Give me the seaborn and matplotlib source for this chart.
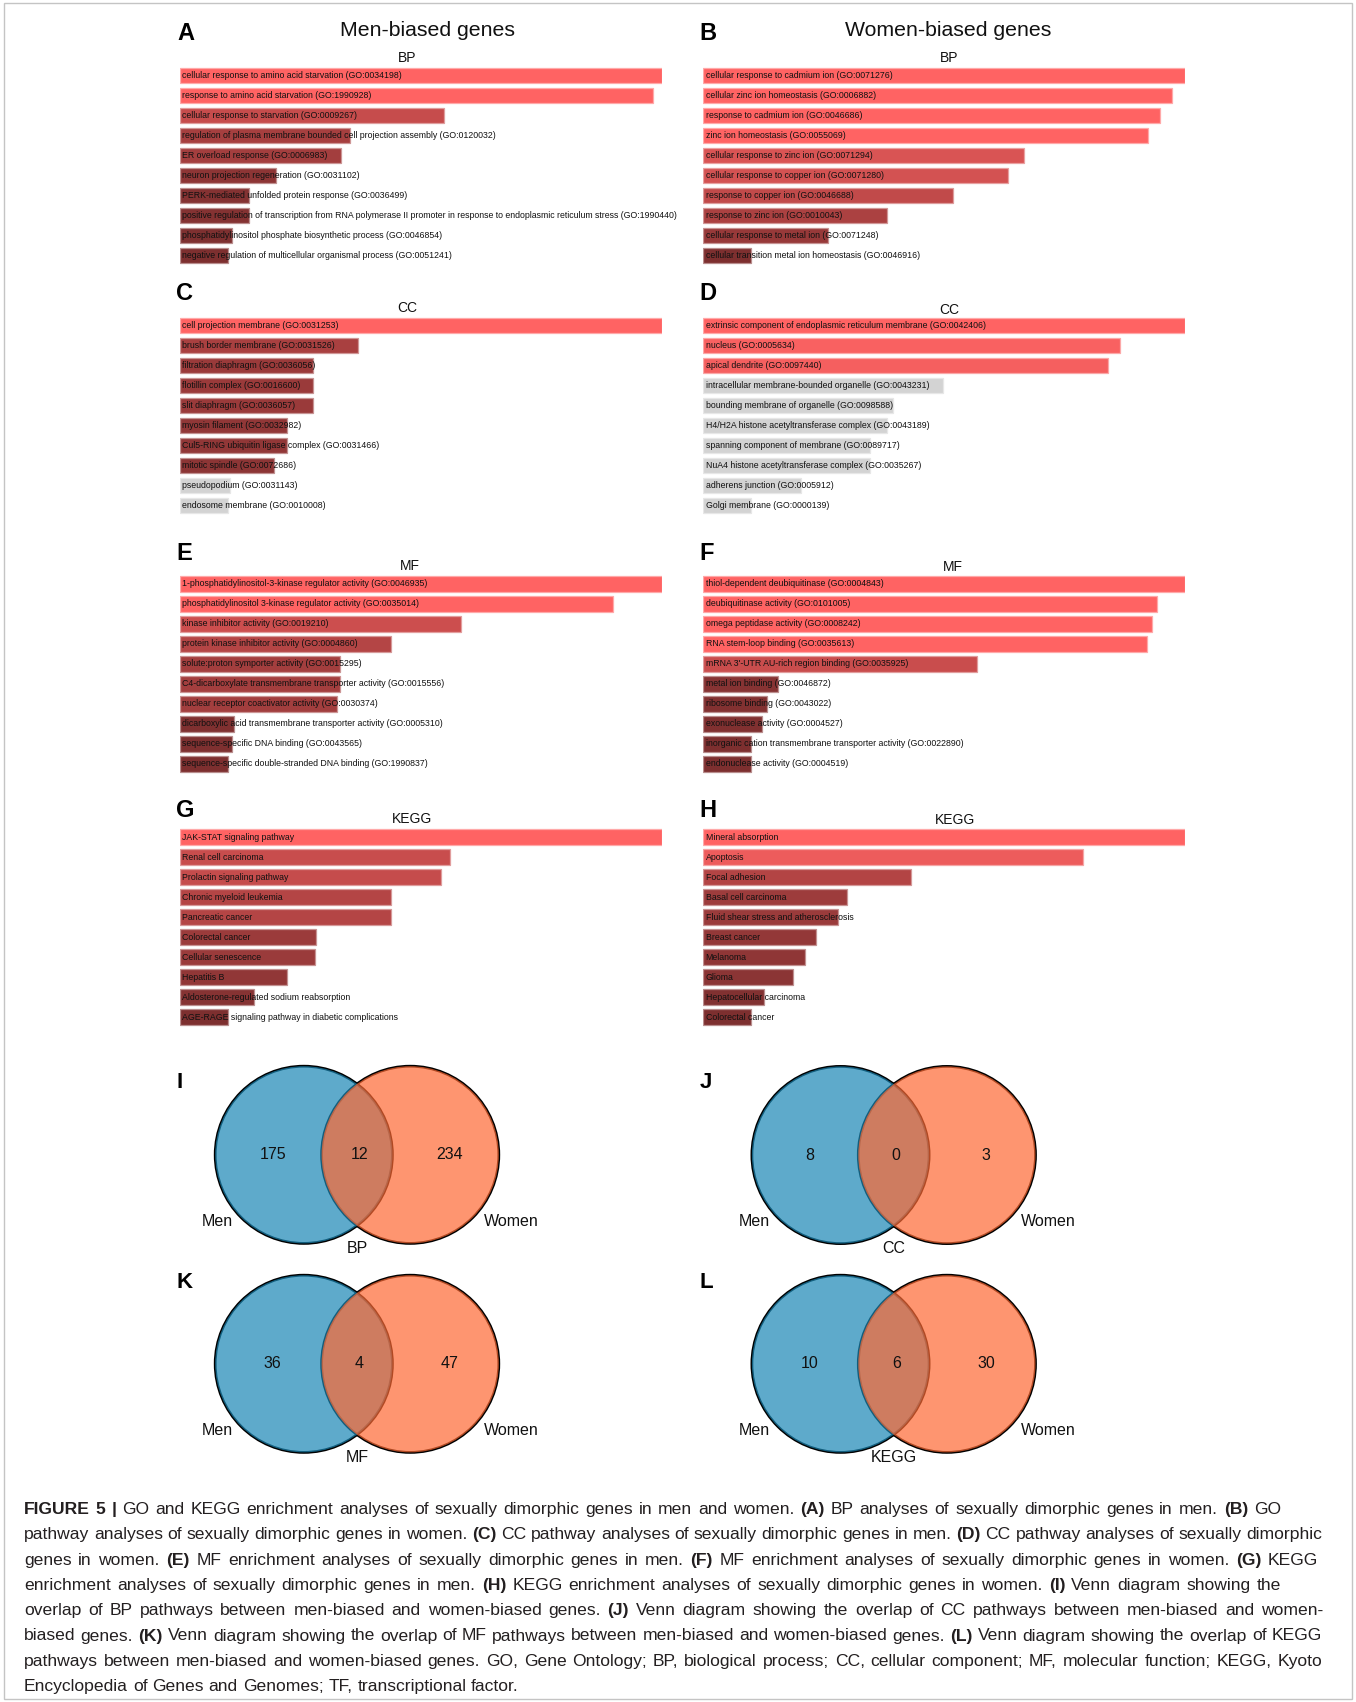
import numpy as np
import pandas as pd
import matplotlib
matplotlib.use("Agg")
import matplotlib.pyplot as plt
from matplotlib.patches import Ellipse, Rectangle
import seaborn as sns

sns.set_theme(style="white")
plt.rcParams["font.family"] = ["Liberation Sans", "DejaVu Sans"]

# ------------------------------------------------------------------
# Enrichment results (relative enrichment score, significance flag)
# ------------------------------------------------------------------
bp_men_terms = [
    "cellular response to amino acid starvation (GO:0034198)",
    "response to amino acid starvation (GO:1990928)",
    "cellular response to starvation (GO:0009267)",
    "regulation of plasma membrane bounded cell projection assembly (GO:0120032)",
    "ER overload response (GO:0006983)",
    "neuron projection regeneration (GO:0031102)",
    "PERK-mediated unfolded protein response (GO:0036499)",
    "positive regulation of transcription from RNA polymerase II promoter in response to endoplasmic reticulum stress (GO:1990440)",
    "phosphatidylinositol phosphate biosynthetic process (GO:0046854)",
    "negative regulation of multicellular organismal process (GO:0051241)",
]
bp_men_score = [1.0, 0.981, 0.547, 0.352, 0.334, 0.199, 0.143, 0.143, 0.108, 0.099]
bp_men_sig = [True] * 10

bp_women_terms = [
    "cellular response to cadmium ion (GO:0071276)",
    "cellular zinc ion homeostasis (GO:0006882)",
    "response to cadmium ion (GO:0046686)",
    "zinc ion homeostasis (GO:0055069)",
    "cellular response to zinc ion (GO:0071294)",
    "cellular response to copper ion (GO:0071280)",
    "response to copper ion (GO:0046688)",
    "response to zinc ion (GO:0010043)",
    "cellular response to metal ion (GO:0071248)",
    "cellular transition metal ion homeostasis (GO:0046916)",
]
bp_women_score = [1.0, 0.972, 0.947, 0.922, 0.665, 0.632, 0.518, 0.382, 0.258, 0.0996]
bp_women_sig = [True] * 10

cc_men_terms = [
    "cell projection membrane (GO:0031253)",
    "brush border membrane (GO:0031526)",
    "filtration diaphragm (GO:0036056)",
    "flotillin complex (GO:0016600)",
    "slit diaphragm (GO:0036057)",
    "myosin filament (GO:0032982)",
    "Cul5-RING ubiquitin ligase complex (GO:0031466)",
    "mitotic spindle (GO:0072686)",
    "pseudopodium (GO:0031143)",
    "endosome membrane (GO:0010008)",
]
cc_men_score = [1.0, 0.369, 0.276, 0.276, 0.276, 0.222, 0.222, 0.195, 0.103, 0.0997]
cc_men_sig = [True] * 8 + [False] * 2

cc_women_terms = [
    "extrinsic component of endoplasmic reticulum membrane (GO:0042406)",
    "nucleus (GO:0005634)",
    "apical dendrite (GO:0097440)",
    "intracellular membrane-bounded organelle (GO:0043231)",
    "bounding membrane of organelle (GO:0098588)",
    "H4/H2A histone acetyltransferase complex (GO:0043189)",
    "spanning component of membrane (GO:0089717)",
    "NuA4 histone acetyltransferase complex (GO:0035267)",
    "adherens junction (GO:0005912)",
    "Golgi membrane (GO:0000139)",
]
cc_women_score = [1.0, 0.864, 0.839, 0.497, 0.393, 0.381, 0.345, 0.345, 0.203, 0.0996]
cc_women_sig = [True] * 3 + [False] * 7

mf_men_terms = [
    "1-phosphatidylinositol-3-kinase regulator activity (GO:0046935)",
    "phosphatidylinositol 3-kinase regulator activity (GO:0035014)",
    "kinase inhibitor activity (GO:0019210)",
    "protein kinase inhibitor activity (GO:0004860)",
    "solute:proton symporter activity (GO:0015295)",
    "C4-dicarboxylate transmembrane transporter activity (GO:0015556)",
    "nuclear receptor coactivator activity (GO:0030374)",
    "dicarboxylic acid transmembrane transporter activity (GO:0005310)",
    "sequence-specific DNA binding (GO:0043565)",
    "sequence-specific double-stranded DNA binding (GO:1990837)",
]
mf_men_score = [1.0, 0.898, 0.584, 0.438, 0.331, 0.331, 0.325, 0.111, 0.108, 0.099]
mf_men_sig = [True] * 10

mf_women_terms = [
    "thiol-dependent deubiquitinase (GO:0004843)",
    "deubiquitinase activity (GO:0101005)",
    "omega peptidase activity (GO:0008242)",
    "RNA stem-loop binding (GO:0035613)",
    "mRNA 3'-UTR AU-rich region binding (GO:0035925)",
    "metal ion binding (GO:0046872)",
    "ribosome binding (GO:0043022)",
    "exonuclease activity (GO:0004527)",
    "inorganic cation transmembrane transporter activity (GO:0022890)",
    "endonuclease activity (GO:0004519)",
]
mf_women_score = [1.0, 0.941, 0.931, 0.920, 0.568, 0.154, 0.133, 0.121, 0.0996, 0.0996]
mf_women_sig = [True] * 10

kegg_men_terms = [
    "JAK-STAT signaling pathway",
    "Renal cell carcinoma",
    "Prolactin signaling pathway",
    "Chronic myeloid leukemia",
    "Pancreatic cancer",
    "Colorectal cancer",
    "Cellular senescence",
    "Hepatitis B",
    "Aldosterone-regulated sodium reabsorption",
    "AGE-RAGE signaling pathway in diabetic complications",
]
kegg_men_score = [1.0, 0.560, 0.542, 0.437, 0.437, 0.283, 0.281, 0.223, 0.154, 0.099]
kegg_men_sig = [True] * 10

kegg_women_terms = [
    "Mineral absorption",
    "Apoptosis",
    "Focal adhesion",
    "Basal cell carcinoma",
    "Fluid shear stress and atherosclerosis",
    "Breast cancer",
    "Melanoma",
    "Glioma",
    "Hepatocellular carcinoma",
    "Colorectal cancer",
]
kegg_women_score = [1.0, 0.787, 0.430, 0.298, 0.280, 0.234, 0.212, 0.186, 0.126, 0.0996]
kegg_women_sig = [True] * 10

# Overlap of enriched terms between the two gene sets
venn_categories = ["BP", "CC", "MF", "KEGG"]
venn_letters = ["I", "J", "K", "L"]
venn_men_only = [175, 8, 36, 10]
venn_shared = [12, 0, 4, 6]
venn_women_only = [234, 3, 47, 30]

column_titles = ["Men-biased genes", "Women-biased genes"]

caption_lines = [
    "*FIGURE 5 |* GO and KEGG enrichment analyses of sexually dimorphic genes in men and women. *(A)* BP analyses of sexually dimorphic genes in men. *(B)* GO",
    "pathway analyses of sexually dimorphic genes in women. *(C)* CC pathway analyses of sexually dimorphic genes in men. *(D)* CC pathway analyses of sexually dimorphic",
    "genes in women. *(E)* MF enrichment analyses of sexually dimorphic genes in men. *(F)* MF enrichment analyses of sexually dimorphic genes in women. *(G)* KEGG",
    "enrichment analyses of sexually dimorphic genes in men. *(H)* KEGG enrichment analyses of sexually dimorphic genes in women. *(I)* Venn diagram showing the",
    "overlap of BP pathways between men-biased and women-biased genes. *(J)* Venn diagram showing the overlap of CC pathways between men-biased and women-",
    "biased genes. *(K)* Venn diagram showing the overlap of MF pathways between men-biased and women-biased genes. *(L)* Venn diagram showing the overlap of KEGG",
    "pathways between men-biased and women-biased genes. GO, Gene Ontology; BP, biological process; CC, cellular component; MF, molecular function; KEGG, Kyoto",
    "Encyclopedia of Genes and Genomes; TF, transcriptional factor.",
]

# ------------------------------------------------------------------
# Figure helpers (layout given in pixels from the top-left corner)
# ------------------------------------------------------------------
W, H, DPI = 1356, 1702, 100
fig = plt.figure(figsize=(W / DPI, H / DPI), dpi=DPI, facecolor="white")


def rect_px(x0, y0, w, h):
    return [x0 / W, 1 - (y0 + h) / H, w / W, h / H]


def text_px(x, y, s, **kw):
    return fig.text(x / W, 1 - y / H, s, **kw)


DARK = np.array([125, 47, 47]) / 255
BRIGHT = np.array([255, 99, 99]) / 255
GREY = np.array([211, 211, 211]) / 255


def bar_colour(v, sig):
    if not sig:
        return tuple(GREY)
    t = float(np.clip((v - 0.1) / 0.8, 0, 1))
    return tuple(DARK + t * (BRIGHT - DARK))


COL_X = [180.0, 703.3]
BAR_SPAN = 482.0
ROW_TOP = [65.5, 315.5, 573.8, 827.1]
ROW_H = 200.0

panels = [
    ("A", "BP", bp_men_terms, bp_men_score, bp_men_sig, 0, 0, (406.8, 58.0), (177, 33.8)),
    ("B", "BP", bp_women_terms, bp_women_score, bp_women_sig, 1, 0, (949.3, 58.0), (699, 33.8)),
    ("C", "CC", cc_men_terms, cc_men_score, cc_men_sig, 0, 1, (407.0, 308.5), (176, 293.3)),
    ("D", "CC", cc_women_terms, cc_women_score, cc_women_sig, 1, 1, (949.7, 309.5), (699, 293.3)),
    ("E", "MF", mf_men_terms, mf_men_score, mf_men_sig, 0, 2, (410.3, 565.7), (176, 553.3)),
    ("F", "MF", mf_women_terms, mf_women_score, mf_women_sig, 1, 2, (953.0, 567.3), (699, 553.3)),
    ("G", "KEGG", kegg_men_terms, kegg_men_score, kegg_men_sig, 0, 3, (412.3, 819.0), (176, 810.5)),
    ("H", "KEGG", kegg_women_terms, kegg_women_score, kegg_women_sig, 1, 3, (954.7, 820.0), (699, 810.5)),
]

for letter, sub, terms, scores, sig, col, row, sub_xy, let_xy in panels:
    ax = fig.add_axes(rect_px(COL_X[col], ROW_TOP[row], BAR_SPAN, ROW_H))
    df = pd.DataFrame({"term": terms, "score": scores})
    colours = [bar_colour(v, s) for v, s in zip(scores, sig)]
    sns.barplot(data=df, x="score", y="term", hue="term", palette=colours,
                legend=False, width=0.78, saturation=1, orient="h", ax=ax)
    for p in ax.patches:
        fc = np.array(p.get_facecolor()[:3])
        p.set_edgecolor(tuple(fc + (1 - fc) * 0.45))
        p.set_linewidth(0.9)
    xmax = max(scores)
    ax.set_xlim(0, xmax)
    ax.set_ylim(len(terms) - 0.5, -0.5)
    for i, term in enumerate(terms):
        ax.text(0.0048 * xmax, i, term, va="center", ha="left", fontsize=6.3,
                color="#111111", clip_on=False)
    ax.set_axis_off()
    text_px(sub_xy[0], sub_xy[1], sub, ha="center", va="center", fontsize=10, color="#111111")
    text_px(let_xy[0], let_xy[1], letter, ha="left", va="center", fontsize=17,
            fontweight="bold", color="black")

text_px(427, 31, column_titles[0], ha="center", va="center", fontsize=15.3, color="#111111")
text_px(948, 31, column_titles[1], ha="center", va="center", fontsize=15.3, color="#111111")

# ------------------------------------------------------------------
# Venn diagrams
# ------------------------------------------------------------------
MEN_CX = [303.8, 840.5, 303.8, 840.5]
VENN_CY = [1154.8, 1155.0, 1363.8, 1363.8]
LETTER_XY = [(177, 1082), (700, 1082), (177, 1283), (700, 1283)]
SEP = 106.4
RADIUS = 88.6
MEN_FILL = "#1A87B5"
WOMEN_FILL = "#FE6933"

for k, cat in enumerate(venn_categories):
    mx, cy = MEN_CX[k], VENN_CY[k]
    wx = mx + SEP
    x0, y0, bw, bh = mx - 150, cy - 100, 470, 210
    ax = fig.add_axes(rect_px(x0, y0, bw, bh))
    ax.set_xlim(x0, x0 + bw)
    ax.set_ylim(y0 + bh, y0)
    ax.set_axis_off()
    for cx in (mx, wx):
        ax.add_patch(Ellipse((cx, cy), 2 * RADIUS, 2 * RADIUS, fill=False,
                             edgecolor="black", lw=2.0, zorder=1))
    ax.add_patch(Ellipse((mx, cy), 2 * RADIUS, 2 * RADIUS, facecolor=MEN_FILL,
                         edgecolor="none", alpha=0.7, zorder=2))
    ax.add_patch(Ellipse((wx, cy), 2 * RADIUS, 2 * RADIUS, facecolor=WOMEN_FILL,
                         edgecolor="none", alpha=0.7, zorder=3))
    mid = (mx + wx) / 2
    kw = dict(ha="center", va="center", fontsize=11.5, color="#111111", zorder=5)
    ax.text(mx - 31, cy, str(venn_men_only[k]), **kw)
    ax.text(mid + 2.5, cy, str(venn_shared[k]), **kw)
    ax.text(wx + 39, cy, str(venn_women_only[k]), **kw)
    ax.text(mx - 86, cy + 66.5, "Men", **kw)
    ax.text(wx + 101.3, cy + 66.5, "Women", **kw)
    ax.text(mid, cy + 93.5, cat, **kw)
    text_px(LETTER_XY[k][0], LETTER_XY[k][1], venn_letters[k], ha="left",
            va="center", fontsize=16, fontweight="bold", color="black")

# ------------------------------------------------------------------
# Caption (bold segments enclosed in asterisks)
# ------------------------------------------------------------------
CAP_FS = 12.6
CAP_X = 24
CAP_Y0 = 1514
CAP_DY = 25.3
# right margin of each caption line (None = natural spacing)
CAP_RIGHT = [1281, 1322, 1318, 1281, 1323, 1322, 1322, None]
renderer = fig.canvas.get_renderer()


def measure(s, weight):
    t = fig.text(0, 0, s, fontsize=CAP_FS, fontweight=weight)
    w = t.get_window_extent(renderer).width
    t.remove()
    return w


space_w = measure("a a", "normal") - measure("aa", "normal")

for li, line in enumerate(caption_lines):
    words = []
    for pi, part in enumerate(line.split("*")):
        weight = "bold" if pi % 2 == 1 else "normal"
        words += [(w_, weight) for w_ in part.split(" ") if w_]
    widths = [measure(w_, wt) for w_, wt in words]
    gap = space_w
    if CAP_RIGHT[li] is not None and len(words) > 1:
        gap = (CAP_RIGHT[li] - CAP_X - sum(widths)) / (len(words) - 1)
    x = CAP_X
    y = CAP_Y0 + li * CAP_DY
    for (word, weight), wd in zip(words, widths):
        text_px(x, y, word, ha="left", va="baseline", fontsize=CAP_FS,
                fontweight=weight, color="#231F20")
        x += wd + gap

# Thin frame around the whole figure
fig.add_artist(Rectangle((4 / W, 1 - 1699 / H), 1348 / W, 1696 / H,
                         transform=fig.transFigure, fill=False,
                         edgecolor="#C4C4C4", lw=1.0))

fig.savefig("out.png", dpi=DPI, facecolor="white")
